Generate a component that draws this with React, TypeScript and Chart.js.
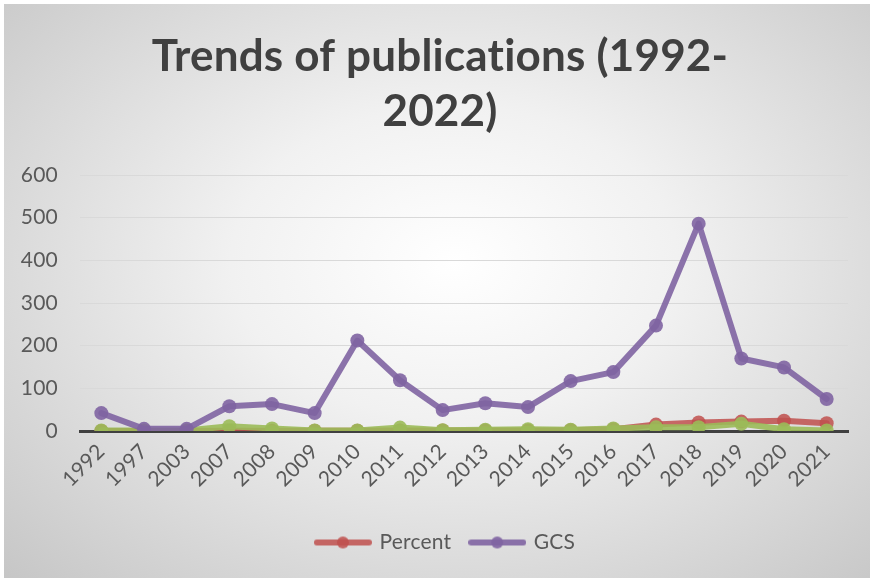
import React, { useEffect, useRef } from "react";
import { Chart, registerables } from "chart.js";

Chart.register(...registerables);

const years = ["1992", "1997", "2003", "2007", "2008", "2009", "2010", "2011", "2012", "2013", "2014", "2015", "2016", "2017", "2018", "2019", "2020", "2021"];
const percentValues = [0, 0, 0, 0.5, 0.5, 0.5, 0.5, 1, 1, 1, 1, 2, 4, 15, 20, 22, 24, 18];
const gcsValues = [42, 5, 5, 58, 63, 42, 212, 119, 49, 65, 56, 117, 138, 247, 486, 170, 149, 75];
const articleValues = [1, 1, 1, 11, 6, 1, 1, 8, 2, 3, 4, 3, 6, 9, 9, 17, 4, 1];
const yTicks = [0, 100, 200, 300, 400, 500, 600];
const titleLines = ["Trends of publications (1992-", "2022)"];

const RED = "rgba(192,80,77,0.85)";
const PURPLE = "rgba(128,100,162,0.9)";
const GREEN = "rgba(155,187,89,0.9)";

function legendIcon(color: string): HTMLCanvasElement {
  const c = document.createElement("canvas");
  c.width = 58;
  c.height = 14;
  const ctx = c.getContext("2d")!;
  ctx.strokeStyle = color;
  ctx.lineWidth = 6;
  ctx.lineCap = "round";
  ctx.beginPath();
  ctx.moveTo(3, 7);
  ctx.lineTo(55, 7);
  ctx.stroke();
  ctx.fillStyle = color;
  ctx.beginPath();
  ctx.arc(29, 7, 6, 0, Math.PI * 2);
  ctx.fill();
  return c;
}

const shiftBoxes = {
  id: "shiftBoxes",
  afterLayout(chart: any) {
    if (chart.titleBlock) chart.titleBlock.left = 32;
    if (chart.legend) chart.legend.left = 42;
  },
  beforeDraw(chart: any) {
    try {
      (chart.ctx as any).letterSpacing = "0.2px";
    } catch (e) {}
  },
};

export default function App() {
  const ref = useRef<HTMLCanvasElement>(null);
  useEffect(() => {
    if (!ref.current) return;
    const icons: Record<string, HTMLCanvasElement> = {
      Percent: legendIcon(RED),
      GCS: legendIcon(PURPLE),
    };
    const common = {
      borderWidth: 6,
      pointRadius: 7,
      pointHoverRadius: 7,
      tension: 0,
      borderJoinStyle: "round" as const,
      borderCapStyle: "round" as const,
      pointBorderWidth: 0,
    };
    const chart = new Chart(ref.current, {
      type: "line",
      data: {
        labels: years,
        datasets: [
          { label: "Percent", data: percentValues, borderColor: RED, backgroundColor: RED, pointBackgroundColor: RED, order: 3, ...common },
          { label: "GCS", data: gcsValues, borderColor: PURPLE, backgroundColor: PURPLE, pointBackgroundColor: PURPLE, order: 1, ...common },
          { label: "Articles", data: articleValues, borderColor: GREEN, backgroundColor: GREEN, pointBackgroundColor: GREEN, order: 2, ...common },
        ],
      },
      plugins: [shiftBoxes],
      options: {
        responsive: false,
        animation: false,
        layout: { padding: { left: 0, right: 22, top: 10, bottom: 15 } },
        plugins: {
          title: {
            display: true,
            text: titleLines,
            color: "#404040",
            font: { family: "Lato", size: 44, weight: "bold", lineHeight: "55px" } as any,
            padding: { top: 19.5, bottom: 35.5 },
          },
          legend: {
            position: "bottom",
            labels: {
              usePointStyle: true,
              pointStyleWidth: 52,
              padding: 20,
              color: "#595959",
              font: { family: "Lato", size: 21 },
              filter: (item: any) => item.datasetIndex !== 2,
              sort: (a: any, b: any) => a.datasetIndex - b.datasetIndex,
              generateLabels: (ch: any) => {
                const items = Chart.defaults.plugins.legend.labels.generateLabels(ch);
                return items.map((it: any) => ({ ...it, pointStyle: icons[it.text] || it.pointStyle }));
              },
            },
          },
          tooltip: { enabled: false },
        },
        scales: {
          x: {
            offset: true,
            grid: { display: false, drawTicks: false },
            border: { display: true, color: "#404040", width: 3 },
            ticks: {
              color: "#595959",
              font: { family: "Lato", size: 21 },
              minRotation: 45,
              maxRotation: 45,
              padding: 8,
              autoSkip: false,
            },
            afterFit: (s: any) => { s.height = 81; },
          },
          y: {
            min: 0,
            max: 600,
            afterBuildTicks: (s: any) => { s.ticks = yTicks.map((v) => ({ value: v })); },
            grid: { color: "#d9d9d9", lineWidth: 1, drawTicks: false },
            border: { display: false },
            ticks: {
              color: "#595959",
              font: { family: "Lato", size: 21 },
              padding: 22,
            },
            afterFit: (s: any) => { s.width = 80; },
          },
        },
      },
    });
    return () => chart.destroy();
  }, []);

  return (
    <div style={{ position: "absolute", left: 0, top: 0, width: 870, height: 578, background: "#ffffff", overflow: "hidden" }}>
      <div
        style={{
          position: "absolute",
          left: 4,
          top: 4,
          width: 866,
          height: 574,
          background: "radial-gradient(ellipse farthest-corner at 52% 45%, #ffffff 0%, #f1f1f1 35%, #c6c6c6 100%)",
        }}
      />
      <canvas ref={ref} width={870} height={578} style={{ position: "absolute", left: 0, top: 0 }} />
    </div>
  );
}
